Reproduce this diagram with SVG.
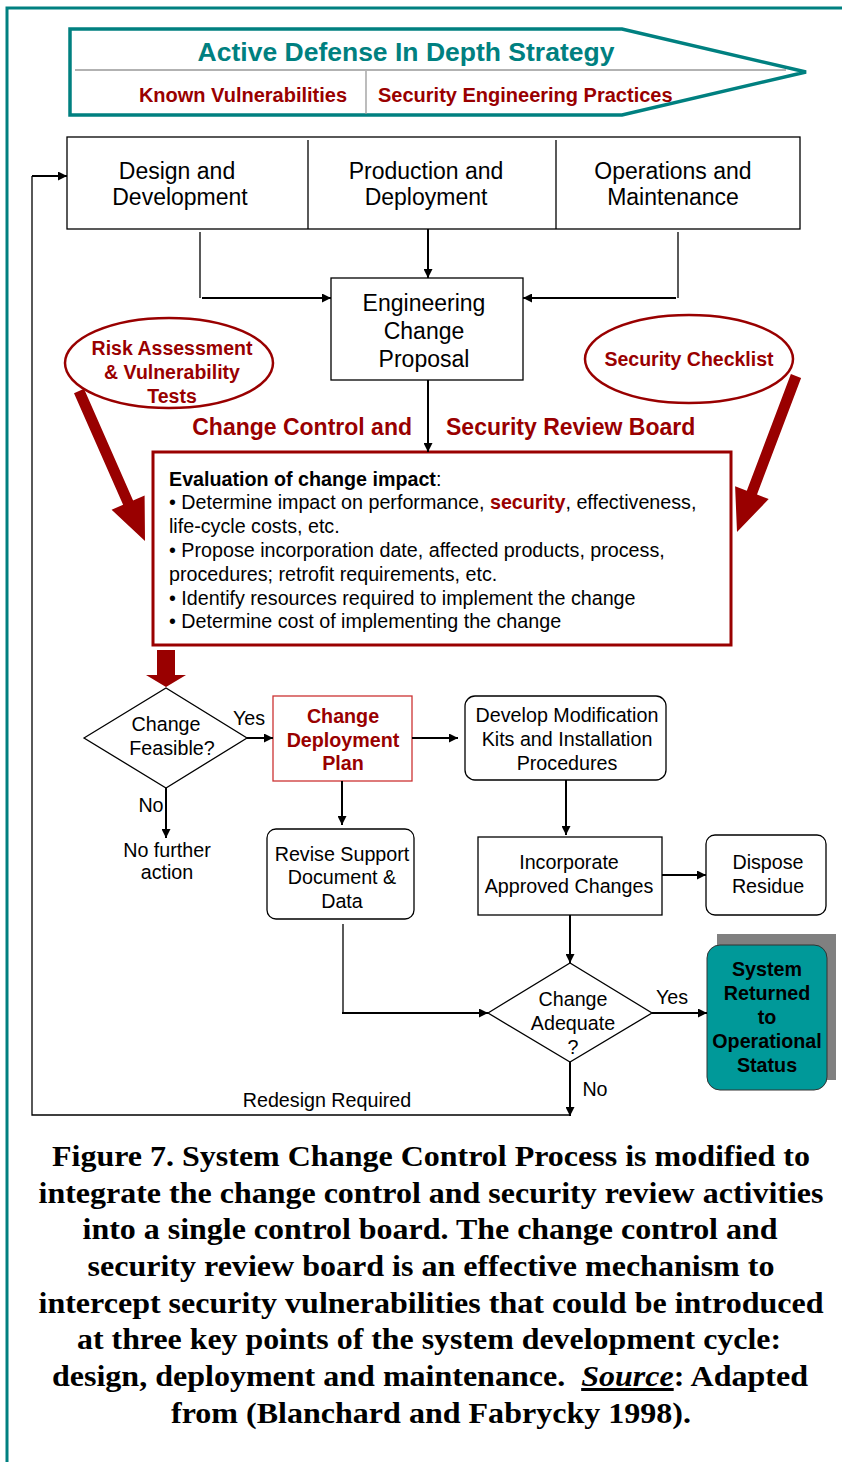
<svg xmlns="http://www.w3.org/2000/svg" width="842" height="1462" viewBox="0 0 842 1462">
<defs>
<marker id="ah" viewBox="0 0 10 10" refX="10" refY="5" markerWidth="10" markerHeight="9" markerUnits="userSpaceOnUse" orient="auto"><path d="M0,0 L10,5 L0,10 z" fill="#000"/></marker>
<style>
.s{font-family:"Liberation Sans",Arial,sans-serif;}
.t22{font-size:23px;fill:#000;text-anchor:middle;}
.t18{font-size:19.7px;fill:#000;text-anchor:middle;}
.rb{font-weight:bold;fill:#990000;}
.box{fill:#fff;stroke:#000;stroke-width:1.3;}
.ln{fill:none;stroke:#000;stroke-width:1.3;}
.lnb{fill:none;stroke:#000;stroke-width:2;}
.ev{font-size:19.7px;fill:#000;}
.cap{font-family:"Liberation Serif","Times New Roman",serif;font-weight:bold;font-size:30px;fill:#000;text-anchor:middle;}
</style>
</defs>
<rect width="842" height="1462" fill="#fff"/>
<!-- border -->
<path d="M7,1462 V8 H842" fill="none" stroke="#008080" stroke-width="3"/>

<!-- banner -->
<g id="banner">
<path d="M70,29 H622 L806,72 L622,115 H70 Z" fill="#fff" stroke="#008080" stroke-width="3.5"/>
<line x1="75" y1="70" x2="786" y2="70" stroke="#999" stroke-width="1.3"/>
<line x1="366" y1="71" x2="366" y2="114" stroke="#999" stroke-width="1.3"/>
<text class="s" x="406" y="61" font-size="26.5" font-weight="bold" fill="#008080" text-anchor="middle">Active Defense In Depth Strategy</text>
<text class="s rb" x="243" y="102" font-size="20" text-anchor="middle">Known Vulnerabilities</text>
<text class="s rb" x="378" y="102" font-size="20">Security Engineering Practices</text>
</g>

<!-- lifecycle boxes -->
<g id="lifecycle">
<rect class="box" x="67" y="137" width="733" height="92"/>
<line class="ln" x1="308" y1="140" x2="308" y2="229"/>
<line class="ln" x1="556" y1="140" x2="556" y2="229"/>
<text class="s t22" x="177" y="179">Design and</text>
<text class="s t22" x="180" y="205">Development</text>
<text class="s t22" x="426" y="179">Production and</text>
<text class="s t22" x="426" y="205">Deployment</text>
<text class="s t22" x="673" y="179">Operations and</text>
<text class="s t22" x="673" y="205">Maintenance</text>
</g>

<g id="ecp">
<rect class="box" x="331" y="278" width="192" height="102"/>
<text class="s t22" x="424" y="311">Engineering</text>
<text class="s t22" x="424" y="339">Change</text>
<text class="s t22" x="424" y="367">Proposal</text>
</g>

<g id="risk">
<ellipse cx="169" cy="363" rx="104" ry="45" fill="#fff" stroke="#990000" stroke-width="2.5"/>
<text class="s rb" x="172" y="355" font-size="19.5" text-anchor="middle">Risk Assessment</text>
<text class="s rb" x="172" y="379" font-size="19.5" text-anchor="middle">&amp; Vulnerability</text>
<text class="s rb" x="172" y="403" font-size="19.5" text-anchor="middle">Tests</text>
</g>

<g id="checklist">
<ellipse cx="689" cy="359" rx="104" ry="44" fill="#fff" stroke="#990000" stroke-width="2.5"/>
<text class="s rb" x="689" y="366" font-size="19.5" text-anchor="middle">Security Checklist</text>
</g>

<g id="board-label">
<text class="s rb" x="412" y="435" font-size="23" text-anchor="end">Change Control and</text>
<text class="s rb" x="446" y="435" font-size="23">Security Review Board</text>
</g>

<g id="evaluation">
<rect x="153" y="452" width="578" height="193" fill="#fff" stroke="#990000" stroke-width="3"/>
<text class="s ev" x="169" y="486"><tspan font-weight="bold">Evaluation of change impact</tspan>:</text>
<text class="s ev" x="169" y="509">• Determine impact on performance, <tspan font-weight="bold" fill="#990000">security</tspan>, effectiveness,</text>
<text class="s ev" x="169" y="533">life-cycle costs, etc.</text>
<text class="s ev" x="169" y="557">• Propose incorporation date, affected products, process,</text>
<text class="s ev" x="169" y="581">procedures; retrofit requirements, etc.</text>
<text class="s ev" x="169" y="605">• Identify resources required to implement the change</text>
<text class="s ev" x="169" y="628">• Determine cost of implementing the change</text>
</g>

<g id="feasible">
<polygon points="84,738 166,688 247,738 166,788" fill="#fff" stroke="#000" stroke-width="1.3"/>
<text class="s t18" x="166" y="731">Change</text>
<text class="s t18" x="172" y="755">Feasible?</text>
</g>

<g id="no-action">
<text class="s t18" x="167" y="857">No further</text>
<text class="s t18" x="167" y="879">action</text>
</g>

<g id="cdp">
<rect x="273" y="696" width="139" height="85" fill="#fff" stroke="#cc3333" stroke-width="1.3"/>
<text class="s t18 rb" x="343" y="723">Change</text>
<text class="s t18 rb" x="343" y="747">Deployment</text>
<text class="s t18 rb" x="343" y="770">Plan</text>
</g>

<g id="revise">
<rect class="box" x="267" y="829" width="147" height="90" rx="9"/>
<text class="s t18" x="342" y="861">Revise Support</text>
<text class="s t18" x="342" y="884">Document &amp;</text>
<text class="s t18" x="342" y="908">Data</text>
</g>

<g id="develop">
<rect class="box" x="465" y="696" width="201" height="84" rx="10"/>
<text class="s t18" x="567" y="722">Develop Modification</text>
<text class="s t18" x="567" y="746">Kits and Installation</text>
<text class="s t18" x="567" y="770">Procedures</text>
</g>

<g id="incorporate">
<rect class="box" x="478" y="837" width="184" height="78"/>
<text class="s t18" x="569" y="869">Incorporate</text>
<text class="s t18" x="569" y="893">Approved Changes</text>
</g>

<g id="dispose">
<rect class="box" x="706" y="835" width="120" height="80" rx="9"/>
<text class="s t18" x="768" y="869">Dispose</text>
<text class="s t18" x="768" y="893">Residue</text>
</g>

<g id="adequate">
<polygon points="488,1013 570,963 652,1013 570,1062" fill="#fff" stroke="#000" stroke-width="1.3"/>
<text class="s t18" x="573" y="1006">Change</text>
<text class="s t18" x="573" y="1030">Adequate</text>
<text class="s t18" x="573" y="1054">?</text>
</g>

<g id="returned">
<rect x="717" y="934" width="119" height="146" fill="#808080"/>
<rect x="707" y="945" width="120" height="145" rx="13" fill="#009999" stroke="#333" stroke-width="1"/>
<text class="s t18" x="767" y="976" font-weight="bold" fill="#fff">System</text>
<text class="s t18" x="767" y="1000" font-weight="bold" fill="#fff">Returned</text>
<text class="s t18" x="767" y="1024" font-weight="bold" fill="#fff">to</text>
<text class="s t18" x="767" y="1048" font-weight="bold" fill="#fff">Operational</text>
<text class="s t18" x="767" y="1072" font-weight="bold" fill="#fff">Status</text>
</g>

<!-- connectors -->
<g id="connectors">
<path class="ln" d="M200,232 V298"/>
<path class="lnb" d="M202,298 H331" marker-end="url(#ah)"/>
<path class="ln" d="M678,232 V298"/>
<path class="lnb" d="M676,298 H523" marker-end="url(#ah)"/>
<path class="lnb" d="M428,229 V278" marker-end="url(#ah)"/>
<path class="lnb" d="M428,380 V452" marker-end="url(#ah)"/>
<path class="lnb" d="M247,738 H273" marker-end="url(#ah)"/>
<path class="lnb" d="M166,788 V838" marker-end="url(#ah)"/>
<path class="lnb" d="M412,738 H458" marker-end="url(#ah)"/>
<path class="lnb" d="M342,781 V825" marker-end="url(#ah)"/>
<path class="ln" d="M343,924 V1013"/>
<path class="lnb" d="M342,1013 H488" marker-end="url(#ah)"/>
<path class="lnb" d="M566,780 V835" marker-end="url(#ah)"/>
<path class="lnb" d="M662,875 H706" marker-end="url(#ah)"/>
<path class="lnb" d="M570,915 V963" marker-end="url(#ah)"/>
<path class="lnb" d="M652,1013 H707" marker-end="url(#ah)"/>
<path class="lnb" d="M570,1062 V1116" marker-end="url(#ah)"/>
<path class="ln" d="M570,1115 H32 V176"/>
<path class="lnb" d="M32,176 H67" marker-end="url(#ah)"/>
<polygon points="74,393.2 84,388.8 133.1,500.4 144.6,495.4 145,541 111.6,509.8 123.1,504.8" fill="#990000"/>
<polygon points="790.9,374.1 801.1,377.9 757,494.6 768.7,499.1 737,532 735.1,486.3 746.8,490.8" fill="#990000"/>
<polygon points="157,650 175,650 175,675 186,675 166,687 146,675 157,675" fill="#990000"/>
<text class="s t18" x="249" y="725">Yes</text>
<text class="s t18" x="151" y="812">No</text>
<text class="s t18" x="672" y="1004">Yes</text>
<text class="s t18" x="595" y="1096">No</text>
<text class="s t18" x="327" y="1107">Redesign Required</text>
</g>

<g id="caption">
<text class="cap" x="431" y="1166" textLength="758" lengthAdjust="spacingAndGlyphs">Figure 7. System Change Control Process is modified to</text>
<text class="cap" x="431" y="1203" textLength="785" lengthAdjust="spacingAndGlyphs">integrate the change control and security review activities</text>
<text class="cap" x="430" y="1239" textLength="695" lengthAdjust="spacingAndGlyphs">into a single control board. The change control and</text>
<text class="cap" x="431" y="1276" textLength="687" lengthAdjust="spacingAndGlyphs">security review board is an effective mechanism to</text>
<text class="cap" x="431" y="1313" textLength="785" lengthAdjust="spacingAndGlyphs">intercept security vulnerabilities that could be introduced</text>
<text class="cap" x="429" y="1349" textLength="704" lengthAdjust="spacingAndGlyphs">at three key points of the system development cycle:</text>
<text class="cap" x="430" y="1386" textLength="756" lengthAdjust="spacingAndGlyphs" xml:space="preserve">design, deployment and maintenance.  <tspan font-style="italic" text-decoration="underline">Source</tspan>: Adapted</text>
<text class="cap" x="431" y="1423" textLength="520" lengthAdjust="spacingAndGlyphs">from (Blanchard and Fabrycky 1998).</text>
</g>
</svg>
